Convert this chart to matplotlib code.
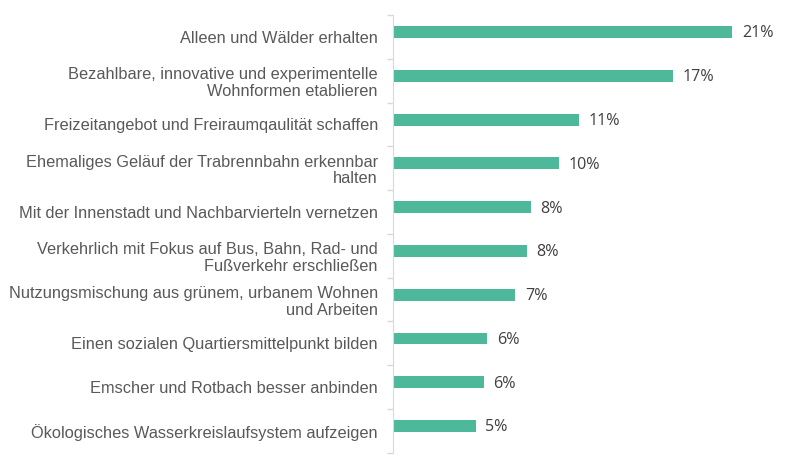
import matplotlib
matplotlib.use("Agg")
import matplotlib.pyplot as plt
import numpy as np

categories = [
    "Alleen und Wälder erhalten",
    "Bezahlbare, innovative und experimentelle\nWohnformen etablieren",
    "Freizeitangebot und Freiraumqaulität schaffen",
    "Ehemaliges Geläuf der Trabrennbahn erkennbar\nhalten",
    "Mit der Innenstadt und Nachbarvierteln vernetzen",
    "Verkehrlich mit Fokus auf Bus, Bahn, Rad- und\nFußverkehr erschließen",
    "Nutzungsmischung aus grünem, urbanem Wohnen\nund Arbeiten",
    "Einen sozialen Quartiersmittelpunkt bilden",
    "Emscher und Rotbach besser anbinden",
    "Ökologisches Wasserkreislaufsystem aufzeigen",
]
values = [20.6, 17.0, 11.3, 10.07, 8.39, 8.15, 7.44, 5.75, 5.53, 5.04]
value_labels = ["21%", "17%", "11%", "10%", "8%", "8%", "7%", "6%", "6%", "5%"]

bar_color = "#4db99a"
label_color = "#595959"

fig = plt.figure(figsize=(8, 4.7), dpi=100)
left_px, right_px = 392.5, 792
ax = fig.add_axes([left_px / 800, 1 - 452.7 / 470, (right_px - left_px) / 800, (452.7 - 15) / 470])

n = len(categories)
pos = np.arange(n)
bar_pos = pos - 0.11
ax.barh(bar_pos, values, height=0.27, color=bar_color)

px_per_unit = 16.5
ax.set_xlim(0, (right_px - left_px) / px_per_unit)
ax.set_ylim(n - 0.5, -0.5)

# value labels just right of each bar
for y, v, lab in zip(bar_pos, values, value_labels):
    ax.annotate(lab, (v, y), xytext=(7, -1), textcoords="offset points",
                va="center", ha="left", fontsize=11.6, color="#404040",
                family="Open Sans")

ax.set_yticks(pos)
ax.set_yticklabels(categories, fontsize=11.8, color=label_color,
                   family="Liberation Sans", linespacing=1.15)
ax.tick_params(axis="y", which="major", length=0, pad=10.5)
ax.set_yticks(np.arange(n + 1) - 0.5, minor=True)
ax.tick_params(axis="y", which="minor", length=4, color="#d9d9d9", width=1)
ax.set_xticks([])

for side in ["top", "right", "bottom"]:
    ax.spines[side].set_visible(False)
ax.spines["left"].set_color("#d9d9d9")

fig.savefig("out.png", dpi=100)
